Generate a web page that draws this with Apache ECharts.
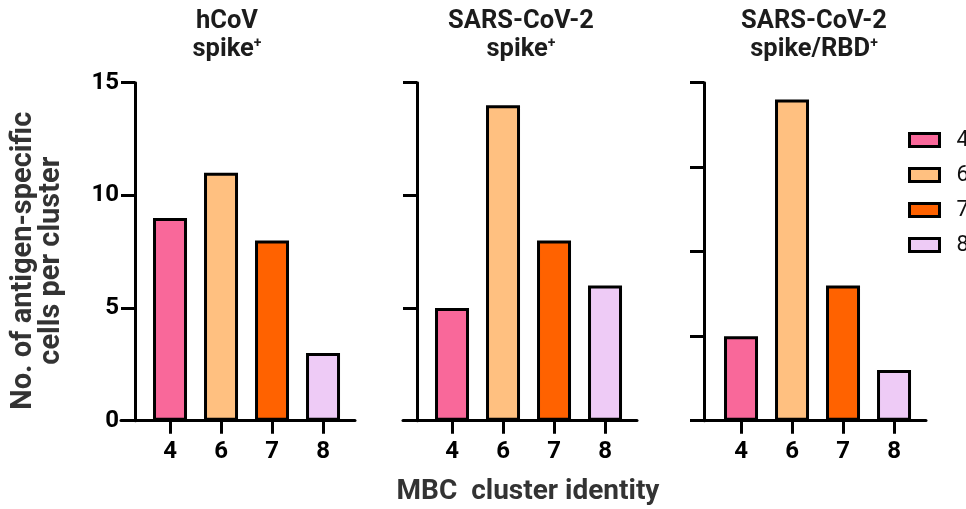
<!DOCTYPE html>
<html>
<head>
<meta charset="utf-8">
<script src="https://cdn.jsdelivr.net/npm/echarts@6/dist/echarts.min.js"></script>
<style>
html,body{margin:0;padding:0;background:#fff;}
#chart{width:966px;height:509px;}
</style>
</head>
<body>
<div id="chart"></div>
<script>
// ---- data ----
const clusters = ['4', '6', '7', '8'];
const clusterColors = ['#F9689A', '#FFC080', '#FF6200', '#EECBF6'];
const hcovSpike = [9, 11, 8, 3];
const sarsSpike = [5, 14, 8, 6];
const sarsRbd = [5, 19, 8, 3];        // panel 3 axis is unlabelled (scale assumed 0-20)
const panelValues = [hcovSpike, sarsSpike, sarsRbd];
const panelTitles = [['hCoV', 'spike'], ['SARS-CoV-2', 'spike'], ['SARS-CoV-2', 'spike/RBD']];
const yMax = [15, 15, 20];
const yTicks = 5;
const yAxisTitle = 'No. of antigen-specific\ncells per cluster';
const xAxisTitle = 'MBC  cluster identity';

// ---- layout ----
const FONT = 'Roboto, "Liberation Sans", sans-serif';
const gridLefts = [121, 403, 692];
const yAxisShift = [14, 14, 12];
const titleCenters = [227, 521, 814];
const gridTop = 82.7, gridH = 338, gridW = 234;
const xMin = -0.961, xMax = 3.627;
const idx = clusters.map((c, i) => i);

const grids = [], xAxes = [], yAxes = [], series = [];
for (let p = 0; p < 3; p++) {
  grids.push({ left: gridLefts[p], top: gridTop, width: gridW, height: gridH });
  xAxes.push({
    type: 'value', gridIndex: p, min: xMin, max: xMax,
    splitLine: { show: false },
    axisLine: { show: true, onZero: false, lineStyle: { color: '#000', width: 3 } },
    axisTick: { show: true, customValues: idx, length: 13, lineStyle: { color: '#000', width: 3 } },
    axisLabel: {
      show: true, customValues: idx, margin: 19,
      formatter: v => clusters[Math.round(v)],
      color: '#000', fontSize: 24, fontWeight: 'bold', fontFamily: FONT
    }
  });
  yAxes.push({
    type: 'value', gridIndex: p, min: 0, max: yMax[p], interval: yTicks,
    offset: -yAxisShift[p],
    splitLine: { show: false },
    axisLine: { show: true, onZero: false, lineStyle: { color: '#000', width: 3 } },
    axisTick: { show: true, length: 14, lineStyle: { color: '#000', width: 3 } },
    axisLabel: {
      show: p === 0, margin: 16, color: '#000', fontSize: 24, fontWeight: 'bold', fontFamily: FONT
    },
    name: p === 0 ? yAxisTitle : '',
    nameLocation: 'middle', nameRotate: 90, nameGap: 69,
    nameTextStyle: { color: '#333', fontSize: 29, fontWeight: 'bold', fontFamily: FONT, lineHeight: 28, padding: [0, 18, 0, 0] }
  });
  panelValues[p].forEach((v, i) => {
    series.push({
      type: 'bar', name: clusters[i], xAxisIndex: p, yAxisIndex: p,
      data: [[i, v]], barWidth: 34, barGap: '-100%',
      itemStyle: { color: clusterColors[i], borderColor: '#000', borderWidth: 3 },
      emphasis: { disabled: true }, animation: false
    });
  });
}

const graphics = panelTitles.map((t, p) => ({
  type: 'text', x: titleCenters[p], y: 8,
  style: {
    text: t[0] + '\n{n|' + t[1] + '}{s|+}',
    textAlign: 'center', textVerticalAlign: 'top',
    fill: '#1c1c1c', fontSize: 25.5, fontWeight: 'bold', fontFamily: FONT, lineHeight: 28,
    rich: {
      n: { fontSize: 25.5, fontWeight: 'bold', fontFamily: FONT, lineHeight: 28, fill: '#1c1c1c' },
      s: { fontSize: 14, fontWeight: 'bold', fontFamily: FONT, lineHeight: 14, verticalAlign: 'top', fill: '#1c1c1c' }
    }
  }
}));
graphics.push({
  type: 'text', x: 528, y: 492,
  style: {
    text: xAxisTitle, textAlign: 'center', textVerticalAlign: 'middle',
    fill: '#333', fontSize: 28, fontWeight: 'bold', fontFamily: FONT
  }
});

const chart = echarts.init(document.getElementById('chart'), null, { renderer: 'canvas' });
chart.setOption({
  animation: false,
  backgroundColor: '#fff',
  grid: grids,
  xAxis: xAxes,
  yAxis: yAxes,
  series: series,
  legend: {
    orient: 'vertical', left: 903, top: 124,
    itemWidth: 30, itemHeight: 13, itemGap: 13,
    data: clusters.map((c, i) => ({
      name: c, icon: 'rect',
      itemStyle: { color: clusterColors[i], borderColor: '#000', borderWidth: 3 }
    })),
    textStyle: { color: '#111', fontSize: 22, lineHeight: 22, fontFamily: FONT, padding: [0, 0, 0, 12] },
    selectedMode: false
  },
  graphic: graphics
});
</script>
</body>
</html>
